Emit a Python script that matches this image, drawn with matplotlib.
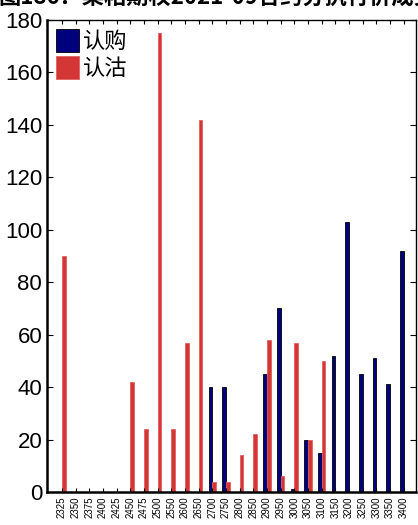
import matplotlib
matplotlib.use('Agg')
import numpy as np
from matplotlib import pyplot as plt

plt.rcParams['font.family'] = ['Liberation Sans', 'Noto Sans CJK SC', 'DejaVu Sans']

strikes = ['2325', '2350', '2375', '2400', '2425', '2450', '2475', '2500', '2550',
           '2600', '2650', '2700', '2750', '2800', '2850', '2900', '2950', '3000',
           '3050', '3100', '3150', '3200', '3250', '3300', '3350', '3400']
call_vol = [0, 0, 0, 0, 0, 0, 0, 0, 0, 0, 0, 40, 40, 0, 0, 45, 70, 1, 20, 15,
            52, 103, 45, 51, 41, 92]
put_vol = [90, 0, 0, 0, 0, 42, 24, 175, 24, 57, 142, 4, 4, 14, 22, 58, 6, 57, 20, 50,
           0, 0, 0, 0, 0, 0]

TITLE = '图186：菜粕期权2021-09合约分执行价成交量'
CALL_COLOR = '#00007f'
PUT_COLOR = '#d43535'
BAR_W = 0.27

fig = plt.figure(figsize=(4.18, 5.25), dpi=100)
ax = fig.add_axes([47 / 418, 33 / 525, 369 / 418, 472 / 525])

x = np.arange(len(strikes))
ax.bar(x - 0.14, call_vol, BAR_W, color=CALL_COLOR, edgecolor='black', linewidth=0.6, label='认购')
ax.bar(x + 0.14, put_vol, BAR_W, color=PUT_COLOR, edgecolor='#e06060', linewidth=0.6, label='认沽')

ax.set_xlim(-1.1, 25.9)
ax.set_ylim(0, 180)
ax.set_yticks(range(0, 181, 20))
ax.set_xticks(x)
ax.set_xticklabels(strikes, rotation=90, fontsize=7)
ax.tick_params(axis='y', labelsize=16, direction='in', right=True, length=4)
ax.tick_params(axis='x', direction='in', top=True, length=3, pad=3)
for sp in ax.spines.values():
    sp.set_linewidth(1.0)
ax.spines['bottom'].set_linewidth(1.8)
ax.spines['left'].set_linewidth(1.8)

ax.legend(loc='upper left', frameon=False, prop={'family': 'Noto Sans CJK SC', 'size': 16},
          handlelength=1.05, handleheight=1.2, handletextpad=0.15, labelspacing=0.15,
          borderaxespad=0.2, borderpad=0.2)

fig.text(-0.005, 1 - 9 / 525, TITLE, fontsize=16, fontweight='bold',
         family='Noto Sans CJK SC', ha='left', va='bottom')

fig.savefig('out.png', dpi=100)
